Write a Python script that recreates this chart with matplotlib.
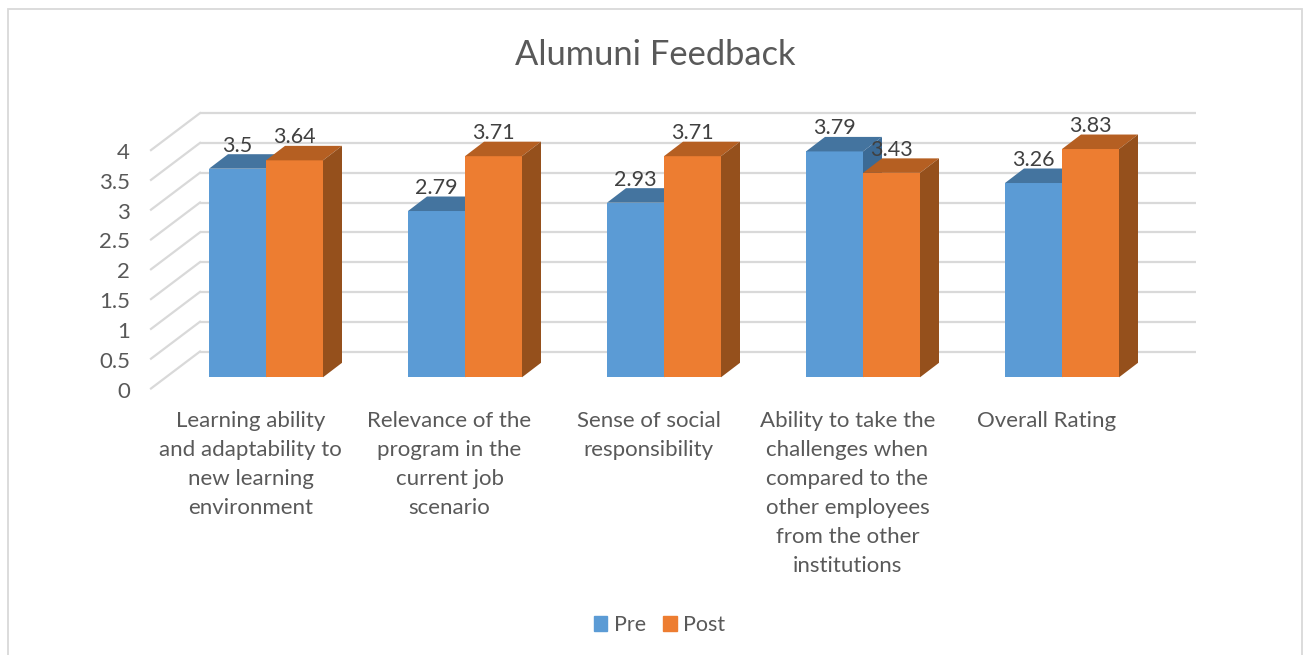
import matplotlib.pyplot as plt
from matplotlib.patches import Polygon, Rectangle, Patch

plt.rcParams['font.family'] = ['Lato', 'DejaVu Sans']

categories = ['Learning ability\nand adaptability to\nnew learning\nenvironment',
              'Relevance of the\nprogram in the\ncurrent job\nscenario',
              'Sense of social\nresponsibility',
              'Ability to take the\nchallenges when\ncompared to the\nother employees\nfrom the other\ninstitutions',
              'Overall Rating']
pre = [3.5, 2.79, 2.93, 3.79, 3.26]
post = [3.64, 3.71, 3.71, 3.43, 3.83]
y_ticks = [0, 0.5, 1, 1.5, 2, 2.5, 3, 3.5, 4]
y_labels = ['0', '0.5', '1', '1.5', '2', '2.5', '3', '3.5', '4']

W, H = 1304, 655
PX_X = 199.0    # pixels per category
PX_Y = 59.6     # pixels per unit
X0, Y0 = 266, 377.3   # pixel of category 0 centre / value 0 on the bar front

text_col = '#595959'
grid_col = '#D9D9D9'

fig = plt.figure(figsize=(W / 100, H / 100), dpi=100)
ax = fig.add_axes([0, 0, 1, 1])
ax.set_xlim(-X0 / PX_X, (W - X0) / PX_X)
ax.set_ylim(-(H - Y0) / PX_Y, Y0 / PX_Y)
ax.axis('off')

fig.add_artist(Rectangle((7.5 / W, -0.1), 1294.5 / W, 1.1 - 9 / H, fill=False,
                         ec=grid_col, lw=1.3, transform=fig.transFigure))

bar_w = 57 / PX_X
dx, dy = 19 / PX_X, 14.5 / PX_Y         # depth of a bar
back_y = 25.8 / PX_Y                    # back wall above bar front
front_y = -11.2 / PX_Y                  # axis labels sit below the bar front
right = (1196 - X0) / PX_X
left_back = (200 - X0) / PX_X
left_front = (151 - X0) / PX_X

for v, lab in zip(y_ticks, y_labels):
    ax.plot([left_back, right], [v + back_y, v + back_y], color=grid_col, lw=1.6, zorder=1, solid_capstyle='butt')
    ax.plot([left_front, left_back], [v + front_y, v + back_y], color=grid_col, lw=1.6, zorder=1)
    ax.text((130 - X0) / PX_X, v + front_y - 3 / PX_Y, lab, ha='right', va='center', fontsize=16, color=text_col)


def draw_bar(x, v, front, top, side, z):
    ax.bar(x, v, bar_w, align='edge', color=front, zorder=z)
    ax.add_patch(Polygon([(x, v), (x + bar_w, v), (x + bar_w + dx, v + dy), (x + dx, v + dy)],
                         color=top, lw=0, zorder=z))
    ax.add_patch(Polygon([(x + bar_w, 0), (x + bar_w + dx, dy), (x + bar_w + dx, v + dy), (x + bar_w, v)],
                         color=side, lw=0, zorder=z))


for i in range(len(categories)):
    draw_bar(i - bar_w, pre[i], '#5B9BD5', '#44749F', '#3B6A95', 2)
    draw_bar(i, post[i], '#ED7D31', '#B55F22', '#95501C', 3)
    ax.text(i - bar_w / 2, pre[i] + 23 / PX_Y, str(pre[i]), ha='center', va='center',
            fontsize=15.5, color='#404040', zorder=5)
    ax.text(i + bar_w / 2, post[i] + 23 / PX_Y, str(post[i]), ha='center', va='center',
            fontsize=15.5, color='#404040', zorder=5)
    ax.text(i - 15.5 / PX_X, -34 / PX_Y, categories[i], ha='center', va='top',
            fontsize=16, color=text_col, linespacing=1.553)

ax.text((655 - X0) / PX_X, (Y0 - 55) / PX_Y, 'Alumuni Feedback', ha='center', va='center',
        fontsize=24.8, color=text_col)

handles = [Patch(color='#5B9BD5', label='Pre'), Patch(color='#ED7D31', label='Post')]
fig.legend(handles=handles, loc='center', bbox_to_anchor=(659.5 / W, 1 - 625 / H), ncol=2, frameon=False,
           fontsize=15.5, labelcolor=text_col, handlelength=0.64, handleheight=0.64,
           handletextpad=0.3, columnspacing=0.8)

fig.savefig('out.png', dpi=100)
